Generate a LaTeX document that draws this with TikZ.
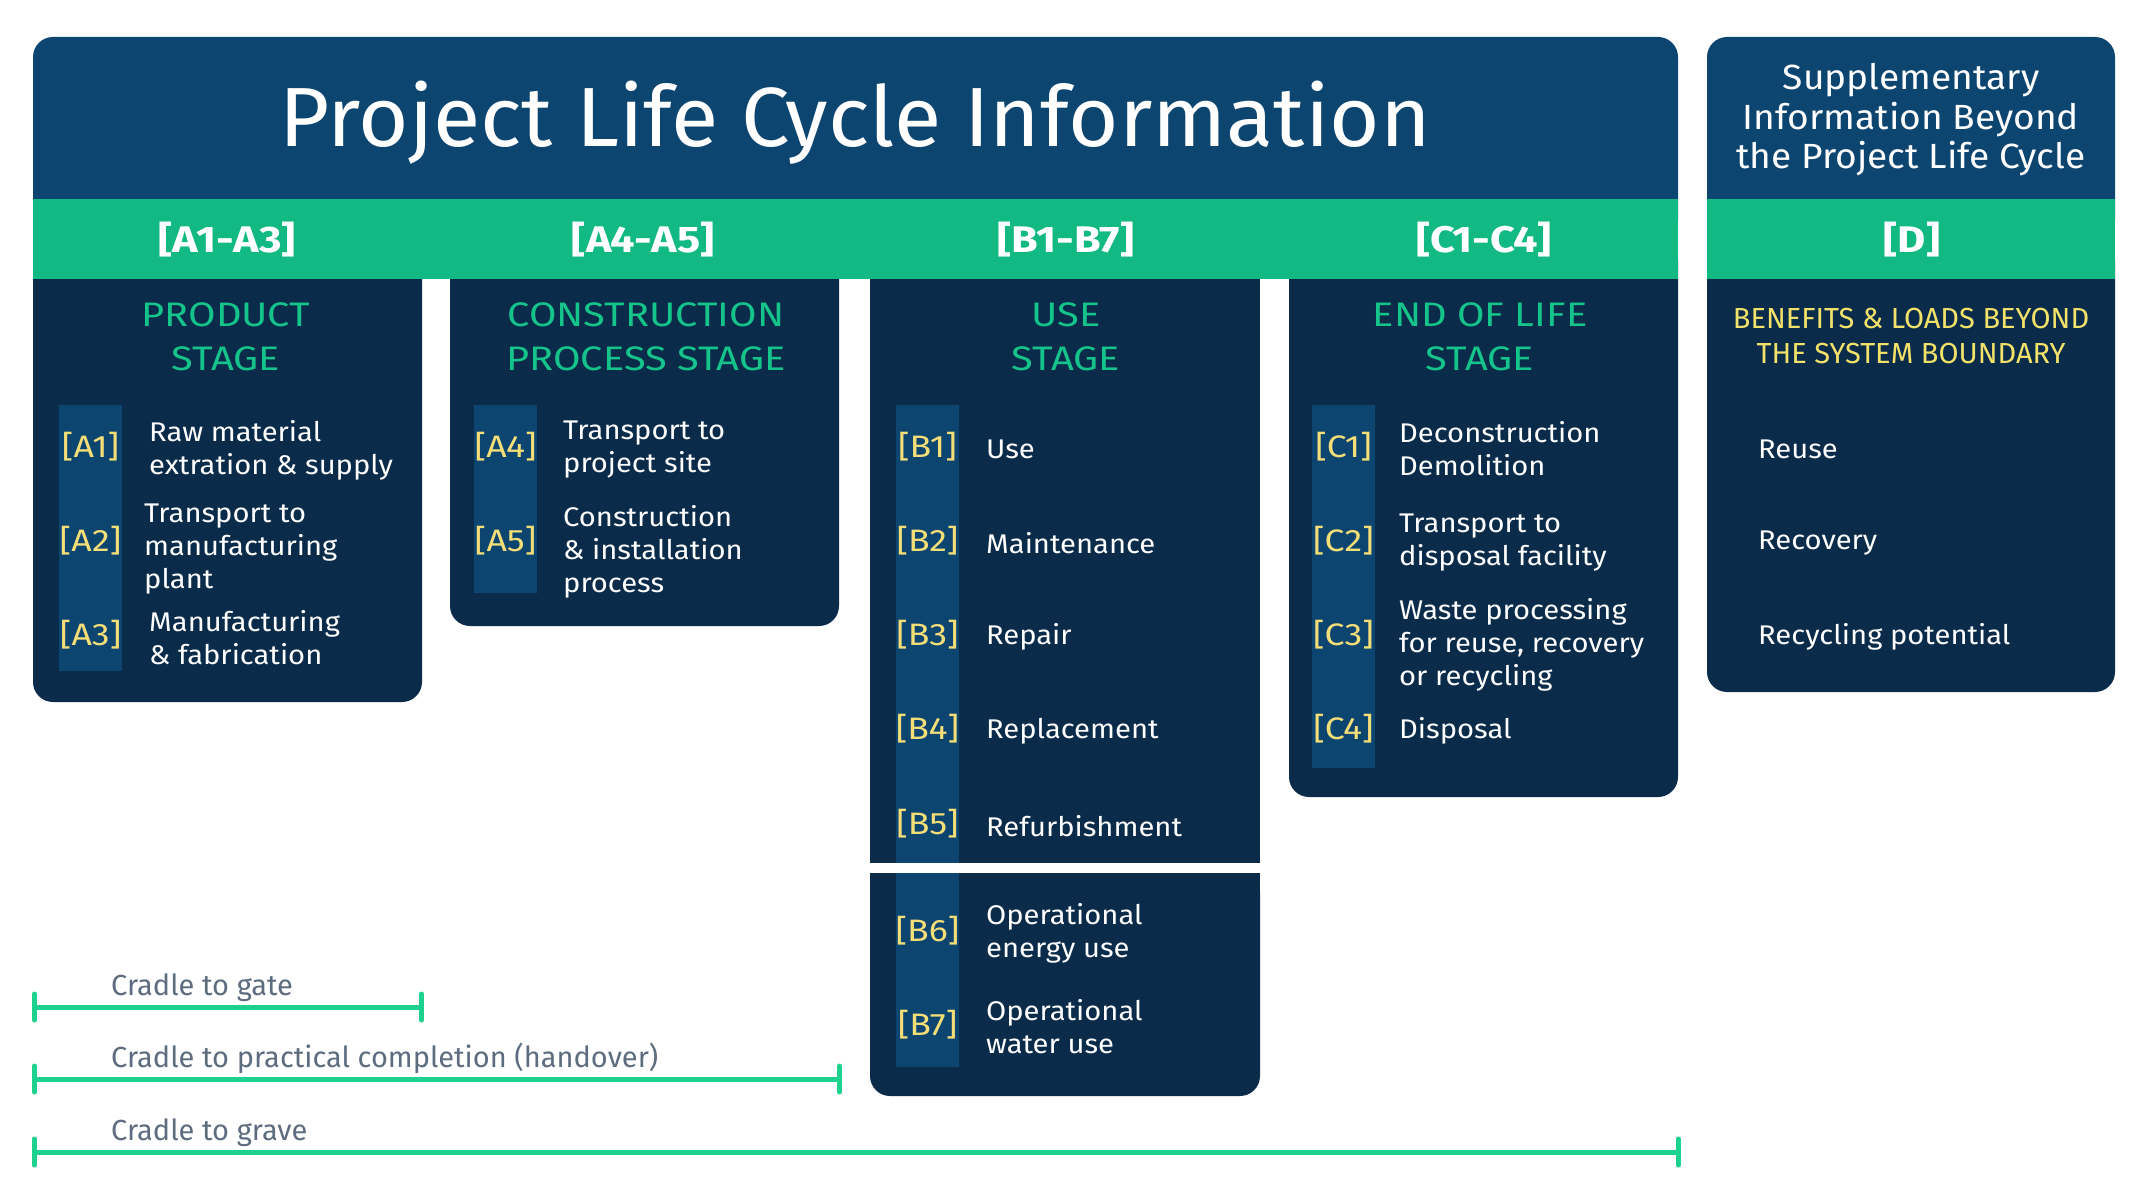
\documentclass[tikz,border=0pt]{standalone}
\usepackage{fontspec}
\setmainfont{Fira Sans}
\newfontfamily\titlefont{Fira Sans}[FakeStretch=1.03]
\newfontfamily\suppfont{Fira Sans}[FakeStretch=1.06]
\newfontfamily\itemfont{Fira Sans}[FakeStretch=1.08]
\newfontfamily\codefont{Fira Sans}[FakeStretch=1.15]
\newfontfamily\stagefont{Fira Sans}[FakeStretch=1.17]
\usetikzlibrary{arrows.meta}

\definecolor{headblue}{HTML}{0D4571}
\definecolor{navy}{HTML}{0A2C4A}
\definecolor{bandgreen}{HTML}{12B982}
\definecolor{stagegreen}{HTML}{14C48B}
\definecolor{codeyellow}{HTML}{F4DE78}
\definecolor{benefityellow}{HTML}{F2E26A}
\definecolor{bargreen}{HTML}{1DD18F}
\definecolor{bargray}{HTML}{5E6C80}

\tikzset{
  code/.style={text=codeyellow, inner sep=0pt, font=\codefont\fontsize{31}{31}\selectfont},
  item/.style={text=white, anchor=west, align=left, inner sep=0pt, font=\itemfont\fontsize{27}{33}\selectfont},
  stagename/.style={text=stagegreen, align=center, inner sep=0pt, font=\stagefont\fontsize{34}{44}\selectfont},
  bandlabel/.style={text=white, anchor=base, inner sep=0pt, font=\stagefont\bfseries\fontsize{37}{37}\selectfont},
  spanlabel/.style={text=bargray, anchor=base west, inner sep=0pt, font=\fontsize{29}{29}\selectfont},
  spanbar/.style={bargreen, line width=5pt, {Bar[width=26pt,line width=5pt,round]}-{Bar[width=26pt,line width=5pt,round]}},
}

\begin{document}
\begin{tikzpicture}[x=1pt, y=-1pt]
  \fill[white, use as bounding box] (0,0) rectangle (2153,1182);
  % header boxes
  \fill[headblue, rounded corners=20] (33,37) rectangle (1678,240);
  \fill[headblue, rounded corners=20] (1707,37) rectangle (2115,240);
  % stage columns
  \fill[navy, rounded corners=20] (33,240) rectangle (422,702);
  \fill[navy, rounded corners=20] (450,240) rectangle (839,626);
  \fill[navy] (870,279) rectangle (1260,863);
  \fill[navy, rounded corners=20] (870,873) rectangle (1260,1096);
  \fill[navy] (870,873) rectangle (1260,920);
  \fill[navy, rounded corners=20] (1289,240) rectangle (1678,797);
  \fill[navy, rounded corners=20] (1707,240) rectangle (2115,692);
  % module bands
  \fill[bandgreen] (33,199) rectangle (1678,279);
  \fill[bandgreen] (1707,199) rectangle (2115,279);
  % code strips
  \foreach \x/\ya/\yb in {59/405/671, 474/405/593, 896/405/863, 896/873/1067, 1312/405/768}
    \fill[headblue] (\x,\ya) rectangle (\x+63,\yb);

  \node[text=white, anchor=base, inner sep=0pt, font=\titlefont\fontsize{84}{84}\selectfont] (title) at (855,147) {Project Life Cycle Information};
  \node[text=white, align=center, inner sep=0pt, font=\suppfont\fontsize{35}{39.5}\selectfont] (supp) at (1911,120) {Supplementary\\Information Beyond\\the Project Life Cycle};

  \node[bandlabel] (bandA) at (227,253) {[A1-A3]};
  \node[bandlabel] (bandAA) at (643,253) {[A4-A5]};
  \node[bandlabel] (bandB) at (1066,253) {[B1-B7]};
  \node[bandlabel] (bandC) at (1484,253) {[C1-C4]};
  \node[bandlabel] (bandD) at (1912,253) {[D]};

  \node[stagename] (stageA) at (226,337) {PRODUCT\\STAGE};
  \node[stagename] (stageAA) at (646,337) {CONSTRUCTION\\PROCESS STAGE};
  \node[stagename] (stageB) at (1066,337) {USE\\STAGE};
  \node[stagename] (stageC) at (1480,337) {END OF LIFE\\STAGE};
  \node[text=benefityellow, align=center, inner sep=0pt, font=\fontsize{29}{35}\selectfont] (stageD) at (1911,336) {BENEFITS \& LOADS BEYOND\\THE SYSTEM BOUNDARY};

  % modules
  \foreach \n/\y/\dy/\x/\txt in {1/447/3/149/{Raw material\\extration \& supply}, 2/541/8/144/{Transport to\\manufacturing\\plant}, 3/635/3/149/{Manufacturing\\\& fabrication}} {
    \node[code] (codeA\n) at (90.5,\y) {[A\n]};
    \node[item] (itemA\n) at (\x,\y+\dy) {\txt};
  }
  \foreach \n/\y/\dy/\txt in {4/447/3/{Transport to\\project site}, 5/541/11/{Construction\\\& installation\\process}} {
    \node[code] (codeA\n) at (505.5,\y) {[A\n]};
    \node[item] (itemA\n) at (563,\y+\dy) {\txt};
  }
  \foreach \n/\y/\txt in {1/447/Use, 2/541/Maintenance, 3/635/Repair, 4/729/Replacement, 5/824/Refurbishment, 6/931/{Operational\\energy use}, 7/1025/{Operational\\water use}} {
    \node[code] (codeB\n) at (927.5,\y) {[B\n]};
    \node[item] (itemB\n) at (986,\y+2) {\txt};
  }
  \foreach \n/\y/\dy/\txt in {1/447/2/{Deconstruction\\Demolition}, 2/541/2/{Transport to\\disposal facility}, 3/635/10/{Waste processing\\for reuse, recovery\\or recycling}, 4/729/2/Disposal} {
    \node[code] (codeC\n) at (1343.5,\y) {[C\n]};
    \node[item] (itemC\n) at (1399,\y+\dy) {\txt};
  }
  \foreach \n/\y/\txt in {1/449/Reuse, 2/543/Recovery, 3/637/Recycling potential}
    \node[item] (itemD\n) at (1758,\y) {\txt};

  % system boundaries
  \coordinate (cradle) at (32,1007);
  \coordinate (gate) at (424,1007);
  \coordinate (cradleh) at (32,1079);
  \coordinate (handover) at (842,1079);
  \coordinate (cradleg) at (32,1152);
  \coordinate (grave) at (1681,1152);
  \draw[spanbar] (cradle) -- (gate);
  \draw[spanbar] (cradleh) -- (handover);
  \draw[spanbar] (cradleg) -- (grave);
  \node[spanlabel] (gatelabel) at (111,995) {Cradle to gate};
  \node[spanlabel] (handoverlabel) at (111,1067) {Cradle to practical completion (handover)};
  \node[spanlabel] (gravelabel) at (111,1140) {Cradle to grave};
\end{tikzpicture}
\end{document}
